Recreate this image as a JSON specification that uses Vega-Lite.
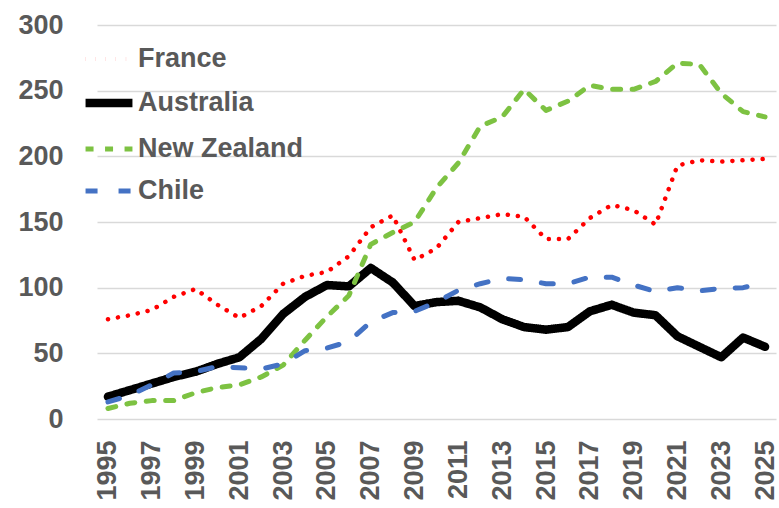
{
  "$schema": "https://vega.github.io/schema/vega-lite/v6.json",
  "width": 679,
  "height": 394,
  "autosize": {"type": "none"},
  "padding": {"left": 97, "top": 25, "right": 3, "bottom": 89},
  "background": "#ffffff",
  "config": {
    "view": {"stroke": null},
    "font": "Liberation Sans",
    "legend": {
      "title": null,
      "orient": "none",
      "legendX": -16,
      "legendY": 8,
      "symbolType": "stroke",
      "symbolSize": 2200,
      "labelFont": "Liberation Sans",
      "labelFontSize": 27,
      "labelFontWeight": "bold",
      "labelColor": "#595959",
      "labelOffset": 1,
      "labelLimit": 0,
      "rowPadding": 3
    }
  },
  "datasets": {
    "series": [
      {"year": 1995, "country": "France", "value": 76},
      {"year": 1996, "country": "France", "value": 79},
      {"year": 1997, "country": "France", "value": 83},
      {"year": 1998, "country": "France", "value": 93},
      {"year": 1999, "country": "France", "value": 99},
      {"year": 2000, "country": "France", "value": 87},
      {"year": 2001, "country": "France", "value": 77},
      {"year": 2002, "country": "France", "value": 86},
      {"year": 2003, "country": "France", "value": 103},
      {"year": 2004, "country": "France", "value": 109},
      {"year": 2005, "country": "France", "value": 112},
      {"year": 2006, "country": "France", "value": 124},
      {"year": 2007, "country": "France", "value": 146},
      {"year": 2008, "country": "France", "value": 155},
      {"year": 2009, "country": "France", "value": 121},
      {"year": 2010, "country": "France", "value": 130},
      {"year": 2011, "country": "France", "value": 150},
      {"year": 2012, "country": "France", "value": 153},
      {"year": 2013, "country": "France", "value": 156},
      {"year": 2014, "country": "France", "value": 154},
      {"year": 2015, "country": "France", "value": 137},
      {"year": 2016, "country": "France", "value": 137},
      {"year": 2017, "country": "France", "value": 153},
      {"year": 2018, "country": "France", "value": 163},
      {"year": 2019, "country": "France", "value": 159},
      {"year": 2020, "country": "France", "value": 148},
      {"year": 2021, "country": "France", "value": 193},
      {"year": 2022, "country": "France", "value": 197},
      {"year": 2023, "country": "France", "value": 196},
      {"year": 2024, "country": "France", "value": 197},
      {"year": 2025, "country": "France", "value": 198},
      {"year": 1995, "country": "Australia", "value": 17},
      {"year": 1996, "country": "Australia", "value": 22},
      {"year": 1997, "country": "Australia", "value": 27},
      {"year": 1998, "country": "Australia", "value": 32},
      {"year": 1999, "country": "Australia", "value": 36},
      {"year": 2000, "country": "Australia", "value": 42},
      {"year": 2001, "country": "Australia", "value": 47},
      {"year": 2002, "country": "Australia", "value": 61},
      {"year": 2003, "country": "Australia", "value": 80},
      {"year": 2004, "country": "Australia", "value": 93},
      {"year": 2005, "country": "Australia", "value": 102},
      {"year": 2006, "country": "Australia", "value": 101},
      {"year": 2007, "country": "Australia", "value": 115},
      {"year": 2008, "country": "Australia", "value": 104},
      {"year": 2009, "country": "Australia", "value": 86},
      {"year": 2010, "country": "Australia", "value": 89},
      {"year": 2011, "country": "Australia", "value": 90},
      {"year": 2012, "country": "Australia", "value": 85},
      {"year": 2013, "country": "Australia", "value": 76},
      {"year": 2014, "country": "Australia", "value": 70},
      {"year": 2015, "country": "Australia", "value": 68},
      {"year": 2016, "country": "Australia", "value": 70},
      {"year": 2017, "country": "Australia", "value": 82},
      {"year": 2018, "country": "Australia", "value": 87},
      {"year": 2019, "country": "Australia", "value": 81},
      {"year": 2020, "country": "Australia", "value": 79},
      {"year": 2021, "country": "Australia", "value": 63},
      {"year": 2022, "country": "Australia", "value": 55},
      {"year": 2023, "country": "Australia", "value": 47},
      {"year": 2024, "country": "Australia", "value": 62},
      {"year": 2025, "country": "Australia", "value": 55},
      {"year": 1995, "country": "New Zealand", "value": 8},
      {"year": 1996, "country": "New Zealand", "value": 12},
      {"year": 1997, "country": "New Zealand", "value": 14},
      {"year": 1998, "country": "New Zealand", "value": 14},
      {"year": 1999, "country": "New Zealand", "value": 20},
      {"year": 2000, "country": "New Zealand", "value": 24},
      {"year": 2001, "country": "New Zealand", "value": 26},
      {"year": 2002, "country": "New Zealand", "value": 32},
      {"year": 2003, "country": "New Zealand", "value": 41},
      {"year": 2004, "country": "New Zealand", "value": 60},
      {"year": 2005, "country": "New Zealand", "value": 78},
      {"year": 2006, "country": "New Zealand", "value": 94},
      {"year": 2007, "country": "New Zealand", "value": 133},
      {"year": 2008, "country": "New Zealand", "value": 142},
      {"year": 2009, "country": "New Zealand", "value": 150},
      {"year": 2010, "country": "New Zealand", "value": 176},
      {"year": 2011, "country": "New Zealand", "value": 195},
      {"year": 2012, "country": "New Zealand", "value": 223},
      {"year": 2013, "country": "New Zealand", "value": 230},
      {"year": 2014, "country": "New Zealand", "value": 251},
      {"year": 2015, "country": "New Zealand", "value": 235},
      {"year": 2016, "country": "New Zealand", "value": 242},
      {"year": 2017, "country": "New Zealand", "value": 254},
      {"year": 2018, "country": "New Zealand", "value": 251},
      {"year": 2019, "country": "New Zealand", "value": 251},
      {"year": 2020, "country": "New Zealand", "value": 257},
      {"year": 2021, "country": "New Zealand", "value": 271},
      {"year": 2022, "country": "New Zealand", "value": 270},
      {"year": 2023, "country": "New Zealand", "value": 248},
      {"year": 2024, "country": "New Zealand", "value": 234},
      {"year": 2025, "country": "New Zealand", "value": 230},
      {"year": 1995, "country": "Chile", "value": 13},
      {"year": 1996, "country": "Chile", "value": 18},
      {"year": 1997, "country": "Chile", "value": 26},
      {"year": 1998, "country": "Chile", "value": 35},
      {"year": 1999, "country": "Chile", "value": 36},
      {"year": 2000, "country": "Chile", "value": 40},
      {"year": 2001, "country": "Chile", "value": 39},
      {"year": 2002, "country": "Chile", "value": 38},
      {"year": 2003, "country": "Chile", "value": 42},
      {"year": 2004, "country": "Chile", "value": 52},
      {"year": 2005, "country": "Chile", "value": 54},
      {"year": 2006, "country": "Chile", "value": 59},
      {"year": 2007, "country": "Chile", "value": 74},
      {"year": 2008, "country": "Chile", "value": 81},
      {"year": 2009, "country": "Chile", "value": 82},
      {"year": 2010, "country": "Chile", "value": 89},
      {"year": 2011, "country": "Chile", "value": 98},
      {"year": 2012, "country": "Chile", "value": 103},
      {"year": 2013, "country": "Chile", "value": 107},
      {"year": 2014, "country": "Chile", "value": 106},
      {"year": 2015, "country": "Chile", "value": 103},
      {"year": 2016, "country": "Chile", "value": 103},
      {"year": 2017, "country": "Chile", "value": 108},
      {"year": 2018, "country": "Chile", "value": 108},
      {"year": 2019, "country": "Chile", "value": 102},
      {"year": 2020, "country": "Chile", "value": 97},
      {"year": 2021, "country": "Chile", "value": 100},
      {"year": 2022, "country": "Chile", "value": 97.5},
      {"year": 2023, "country": "Chile", "value": 99.5},
      {"year": 2024, "country": "Chile", "value": 100},
      {"year": 2025, "country": "Chile", "value": 104}
    ]
  },
  "data": {"name": "series"},
  "mark": {"type": "line", "strokeCap": "round", "strokeJoin": "round"},
  "encoding": {
    "x": {
      "field": "year",
      "type": "ordinal",
      "scale": {"type": "point", "padding": 0.5},
      "axis": {
        "title": null,
        "values": [1995, 1997, 1999, 2001, 2003, 2005, 2007, 2009, 2011, 2013, 2015, 2017, 2019, 2021, 2023, 2025],
        "labelAngle": -90,
        "labelAlign": "right",
        "labelBaseline": "middle",
        "labelFont": "Liberation Sans",
        "labelFontSize": 27,
        "labelFontWeight": "bold",
        "labelColor": "#595959",
        "labelPadding": 21,
        "ticks": false,
        "domain": false,
        "grid": false
      }
    },
    "y": {
      "field": "value",
      "type": "quantitative",
      "scale": {"domain": [0, 300], "nice": false},
      "axis": {
        "title": null,
        "values": [0, 50, 100, 150, 200, 250, 300],
        "labelFont": "Liberation Sans",
        "labelFontSize": 27,
        "labelFontWeight": "bold",
        "labelColor": "#595959",
        "labelPadding": 34,
        "ticks": false,
        "domain": false,
        "grid": true,
        "gridColor": "#d9d9d9",
        "gridWidth": 1.3
      }
    },
    "color": {
      "field": "country",
      "type": "nominal",
      "scale": {
        "domain": ["France", "Australia", "New Zealand", "Chile"],
        "range": ["#ff0000", "#000000", "#7dc242", "#4472c4"]
      }
    },
    "strokeDash": {
      "field": "country",
      "type": "nominal",
      "scale": {
        "domain": ["France", "Australia", "New Zealand", "Chile"],
        "range": [[0.1, 10], [1, 0], [8, 11.5], [12, 21]]
      }
    },
    "strokeWidth": {
      "field": "country",
      "type": "nominal",
      "scale": {
        "type": "ordinal",
        "domain": ["France", "Australia", "New Zealand", "Chile"],
        "range": [4.5, 8.5, 5, 5]
      }
    }
  }
}
